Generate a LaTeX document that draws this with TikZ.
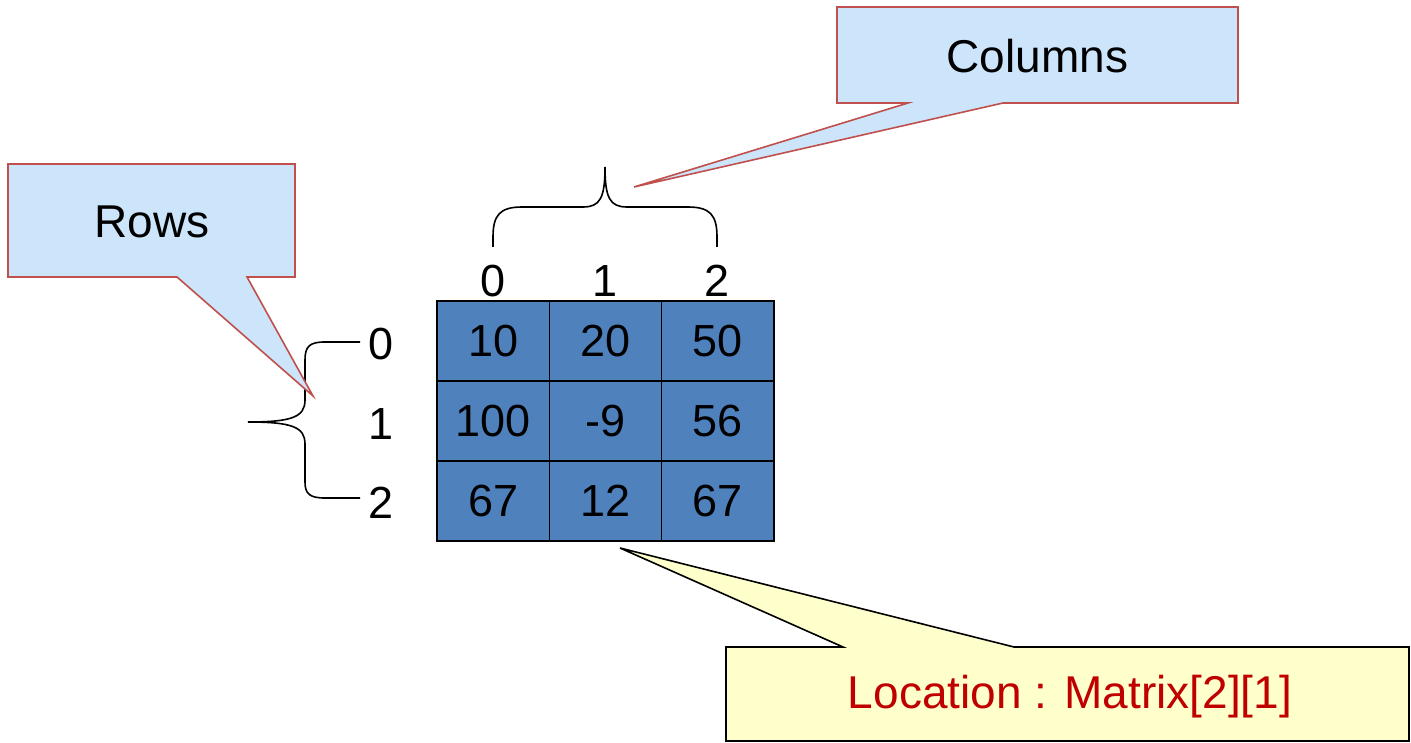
\documentclass[tikz,border=0pt]{standalone}
\usepackage{fontspec}
\setmainfont{Liberation Sans}
\definecolor{cellblue}{HTML}{4F81BD}
\definecolor{callblue}{HTML}{CCE5FB}
\definecolor{callred}{HTML}{C0504D}
\definecolor{callyellow}{HTML}{FFFFCC}
\definecolor{loctext}{HTML}{C00000}
\tikzset{
  cell/.style={draw=black, line width=1.6pt, fill=cellblue, minimum width=112.33pt, minimum height=80pt, inner sep=0pt, font=\fontsize{45}{45}\selectfont},
  idx/.style={inner sep=0pt, font=\fontsize{45}{45}\selectfont},
  bluecall/.style={draw=callred, fill=callblue, line width=1.6pt, line join=miter},
  yellowcall/.style={draw=black, fill=callyellow, line width=1.6pt, line join=miter},
  calltext/.style={inner sep=0pt, font=\fontsize{46}{46}\selectfont},
  bracepath/.style={draw=black, line width=1.6pt},
}
\begin{document}
\begin{tikzpicture}[x=1pt,y=-1pt]
\useasboundingbox (0,0) rectangle (1411,743);
% matrix cells
\node[cell] (c00) at (493.17,341) {10};
\node[cell] (c01) at (605.5,341) {20};
\node[cell] (c02) at (717.83,341) {50};
\node[cell] (c10) at (493.17,421) {100};
\node[cell] (c11) at (605.5,421) {-9};
\node[cell] (c12) at (717.83,421) {56};
\node[cell] (c20) at (493.17,501) {67};
\node[cell] (c21) at (605.5,501) {12};
\node[cell] (c22) at (717.83,501) {67};
% column indices
\node[idx] (k0) at (493,281) {0};
\node[idx] (k1) at (605,281) {1};
\node[idx] (k2) at (717,281) {2};
% row indices
\node[idx] (r0) at (381,344) {0};
\node[idx] (r1) at (381,424) {1};
\node[idx] (r2) at (381,503) {2};
% top brace
\coordinate (tbL) at (493,247);
\coordinate (tbR) at (717,247);
\coordinate (tbT) at (605,167);
\draw[bracepath] (tbL) -- (493,237) .. controls (493,215) and (500,207) .. (522,207) -- (583,207) .. controls (600,207) and (605,198) .. (tbT)
  .. controls (605,198) and (610,207) .. (627,207) -- (688,207) .. controls (710,207) and (717,215) .. (717,237) -- (tbR);
% left brace
\coordinate (lbT) at (360,342);
\coordinate (lbB) at (360,498);
\coordinate (lbP) at (248,422);
\draw[bracepath] (lbT) -- (325,342) .. controls (310,342) and (305,346) .. (305,360) -- (305,400) .. controls (305,417) and (292,422) .. (lbP)
  .. controls (292,422) and (305,427) .. (305,444) -- (305,482) .. controls (305,494) and (310,498) .. (325,498) -- (lbB);
% Columns callout
\coordinate (colTip) at (634,187);
\draw[bluecall] (837,7) -- (1238,7) -- (1238,103) -- (1003,103) -- (colTip) -- (908,103) -- (837,103) -- cycle;
\node[calltext] (cols) at (1037.5,56) {Columns};
% Rows callout
\coordinate (rowTip) at (313,396);
\draw[bluecall] (8,164) -- (295,164) -- (295,277) -- (247,277) -- (rowTip) -- (177,277) -- (8,277) -- cycle;
\node[calltext] (rows) at (152,222) {Rows};
% Location callout
\coordinate (locTip) at (620,548);
\draw[yellowcall] (726,647) -- (843,647) -- (locTip) -- (1014,647) -- (1409,647) -- (1409,741) -- (726,741) -- cycle;
\node[calltext, text=loctext] (loc) at (1070,697) {Location : Matrix[2][1]};
\end{tikzpicture}
\end{document}
